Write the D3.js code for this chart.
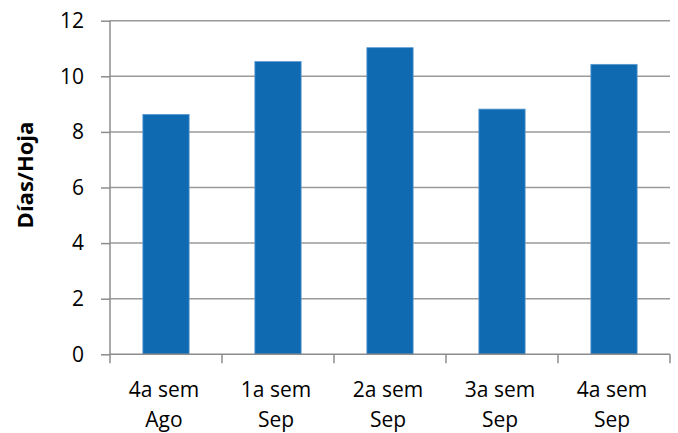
<!DOCTYPE html>
<html>
<head>
<meta charset="utf-8">
<script src="https://cdn.jsdelivr.net/npm/d3@7"></script>
<style>
  body { margin: 0; background: #fff; }
  text { font-family: "Open Sans", Lato, sans-serif; fill: #000; }
</style>
</head>
<body>
<svg id="chart" width="678" height="433"></svg>
<script>
const categories = [["4a sem", "Ago"], ["1a sem", "Sep"], ["2a sem", "Sep"], ["3a sem", "Sep"], ["4a sem", "Sep"]];
const values = [8.63, 10.53, 11.03, 8.82, 10.43];
const yTicks = [0, 2, 4, 6, 8, 10, 12];

const svg = d3.select("#chart");
const margin = { top: 20.7, right: 8, bottom: 78.7, left: 110 };
const width = 678, height = 433;

const x = d3.scaleBand()
  .domain(d3.range(categories.length))
  .range([margin.left, width - margin.right])
  .padding(0);

const y = d3.scaleLinear()
  .domain([0, 12])
  .range([height - margin.bottom, margin.top]);

// gridlines
svg.append("g")
  .selectAll("line")
  .data(yTicks.filter(d => d > 0))
  .join("line")
  .attr("x1", margin.left)
  .attr("x2", width - margin.right)
  .attr("y1", d => y(d))
  .attr("y2", d => y(d))
  .attr("stroke", "#9a9a9a")
  .attr("stroke-width", 1.5);

// bars
const barW = x.bandwidth() * 0.413;
svg.append("g")
  .selectAll("rect")
  .data(values)
  .join("rect")
  .attr("x", (d, i) => x(i) + (x.bandwidth() - barW) / 2)
  .attr("y", d => y(d))
  .attr("width", barW)
  .attr("height", d => y(0) - y(d))
  .attr("fill", "#0f6ab1")
  .attr("stroke", "#5b9bd5")
  .attr("stroke-width", 0.8);

// y axis
const yAxis = svg.append("g")
  .attr("transform", `translate(${margin.left},0)`)
  .call(d3.axisLeft(y).tickValues(yTicks).tickSize(9).tickPadding(17));
yAxis.select(".domain").attr("stroke", "#8c8c8c").attr("stroke-width", 1.5)
  .attr("d", `M0,${y(12)}V${y(0)}`);
yAxis.selectAll(".tick line").attr("stroke", "#8c8c8c").attr("stroke-width", 1.5);
yAxis.selectAll(".tick text").attr("font-size", 21).attr("font-family", "Open Sans").attr("fill", "#000");

// x axis
const xAxis = svg.append("g")
  .attr("transform", `translate(0,${y(0)})`);
xAxis.append("line")
  .attr("x1", margin.left).attr("x2", width - margin.right)
  .attr("stroke", "#8c8c8c").attr("stroke-width", 1.5);
xAxis.selectAll(".tk")
  .data(d3.range(categories.length + 1))
  .join("line")
  .attr("class", "tk")
  .attr("x1", i => i < categories.length ? x(i) : x(i - 1) + x.bandwidth())
  .attr("x2", i => i < categories.length ? x(i) : x(i - 1) + x.bandwidth())
  .attr("y1", 0).attr("y2", 9)
  .attr("stroke", "#8c8c8c").attr("stroke-width", 1.5);
const lbl = xAxis.selectAll(".lbl")
  .data(categories)
  .join("text")
  .attr("class", "lbl")
  .attr("text-anchor", "middle")
  .attr("font-size", 21)
  .attr("transform", (d, i) => `translate(${x(i) + x.bandwidth() / 2 - 2},0)`);
lbl.append("tspan").attr("x", 0).attr("y", 43).text(d => d[0]);
lbl.append("tspan").attr("x", 0).attr("y", 73).text(d => d[1]);

// y title
svg.append("text")
  .attr("transform", `translate(33,175) rotate(-90)`)
  .attr("text-anchor", "middle")
  .attr("font-size", 22)
  .attr("font-weight", "bold")
  .text("Días/Hoja");
</script>
</body>
</html>
